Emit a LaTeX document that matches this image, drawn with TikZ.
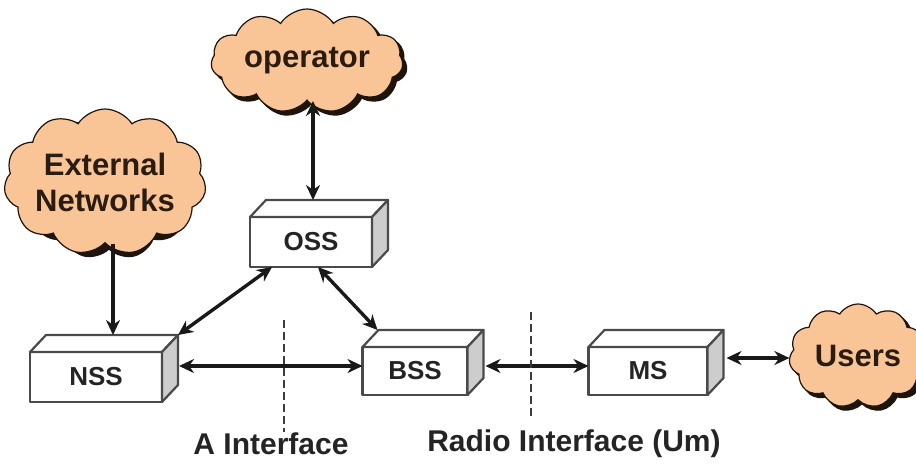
\documentclass[tikz,border=0pt]{standalone}
\usepackage{fontspec}
\setmainfont{Liberation Sans}
\usetikzlibrary{shapes.symbols,arrows.meta}
\definecolor{peach}{HTML}{F9C596}
\definecolor{cloudline}{HTML}{1E140C}
\definecolor{cloudtext}{HTML}{2A1C12}
\definecolor{sidegray}{HTML}{CDCDCD}
\definecolor{edgegray}{HTML}{4A4A4A}
\definecolor{boxtext}{HTML}{242424}
\definecolor{dashgray}{HTML}{3C3C3C}
\tikzset{
  netbox/.style={draw=edgegray, line width=2.2pt, fill=white, outer sep=0pt,
    inner sep=0pt, minimum height=50pt, line join=round,
    font=\fontsize{26}{26}\selectfont\bfseries, text=boxtext},
  netcloud/.style={cloud, cloud puffs=11, cloud puff arc=115, cloud ignores aspect,
    fill=peach, draw=cloudline, line width=1.2pt, inner sep=0pt, align=center,
    font=\fontsize{31}{36}\selectfont\bfseries, text=cloudtext},
  cloudshade/.style={cloud, cloud puffs=11, cloud puff arc=115, cloud ignores aspect,
    fill=cloudline, draw=cloudline, line width=1.2pt, inner sep=0pt},
  link/.style={line width=3.4pt, black!90, {Stealth[length=15pt,width=14pt]}-{Stealth[length=15pt,width=14pt]}},
  feed/.style={line width=3.4pt, black!90, -{Stealth[length=15pt,width=14pt]}},
  divider/.style={dashgray, line width=1.7pt, dash pattern=on 8pt off 4pt},
  iflabel/.style={font=\fontsize{30}{30}\selectfont\bfseries, text=boxtext}
}
% top and side faces of a box whose front face is the node #1
\newcommand{\boxdepth}[1]{%
  \draw[draw=edgegray, line width=2.2pt, fill=white, line join=round]
    (#1.north west) -- ([shift={(16,-17)}]#1.north west)
    -- ([shift={(16,-17)}]#1.north east) -- (#1.north east) -- cycle;
  \draw[draw=edgegray, line width=2.2pt, fill=sidegray, line join=round]
    (#1.north east) -- ([shift={(16,-17)}]#1.north east)
    -- ([shift={(16,-17)}]#1.south east) -- (#1.south east) -- cycle;
}
\begin{document}
\begin{tikzpicture}[x=1pt, y=-1pt]
  \useasboundingbox (0,0) rectangle (916,469);
  \clip (0,0) rectangle (916,469);
  \fill[white] (0,0) rectangle (916,469);

  % clouds, each with a dark offset copy underneath
  \node[cloudshade, minimum width=192pt, minimum height=104pt] at (311,65) {};
  \node[netcloud, minimum width=192pt, minimum height=104pt] (op) at (307,61) {operator};

  \node[cloudshade, minimum width=176pt, minimum height=146pt] at (109,186) {};
  \node[netcloud, minimum width=176pt, minimum height=146pt] (ext) at (105,182) {External\\Networks};

  \node[cloudshade, minimum width=138pt, minimum height=104pt] at (862,360) {};
  \node[netcloud, minimum width=138pt, minimum height=104pt] (usr) at (858,356) {Users};

  % network elements
  \node[netbox, minimum width=132pt] (nss) at (96,377) {NSS};
  \boxdepth{nss}
  \node[netbox, minimum width=122pt] (oss) at (311,242) {OSS};
  \boxdepth{oss}
  \node[netbox, minimum width=105pt, minimum height=48pt] (bss) at (415,371) {BSS};
  \boxdepth{bss}
  \node[netbox, minimum width=119pt, minimum height=48pt] (ms) at (648,371) {MS};
  \boxdepth{ms}

  % connector end points on the box faces
  \coordinate (nsstop) at ([shift={(17,-17)}]nss.north);
  \coordinate (nsscorner) at ([shift={(16,-17)}]nss.north east);
  \coordinate (nssside) at ([shift={(17,-11)}]nss.east);
  \coordinate (osstop) at ([shift={(2,-17)}]oss.north);
  \coordinate (osslow) at ([shift={(22,0)}]oss.south west);
  \coordinate (ossmid) at ([shift={(7,0)}]oss.south);
  \coordinate (bsscorner) at ([shift={(15,-17)}]bss.north west);
  \coordinate (bssside) at ([shift={(18,-5)}]bss.east);
  \coordinate (msside) at ([shift={(19,-13)}]ms.east);

  % connectors
  \draw[feed] (ext.south -| nsstop) -- (nsstop);
  \draw[link] (op.south -| osstop) -- (osstop);
  \draw[link] (osslow) -- (nsscorner);
  \draw[link] (ossmid) -- (bsscorner);
  \draw[link] (nssside) -- (nssside -| bss.west);
  \draw[link] (bssside) -- (bssside -| ms.west);
  \draw[link] (msside) -- (msside -| usr.west);

  % interface boundaries
  \coordinate (atop) at (284,320);
  \coordinate (abot) at (284,432);
  \coordinate (rtop) at (531,312);
  \coordinate (rbot) at (531,418);
  \draw[divider] (atop) -- (abot);
  \draw[divider] (rtop) -- (rbot);

  \node[iflabel] (alab) at (271,444) {A Interface};
  \node[iflabel] (rlab) at (574,444) {Radio Interface (Um)};
\end{tikzpicture}
\end{document}
